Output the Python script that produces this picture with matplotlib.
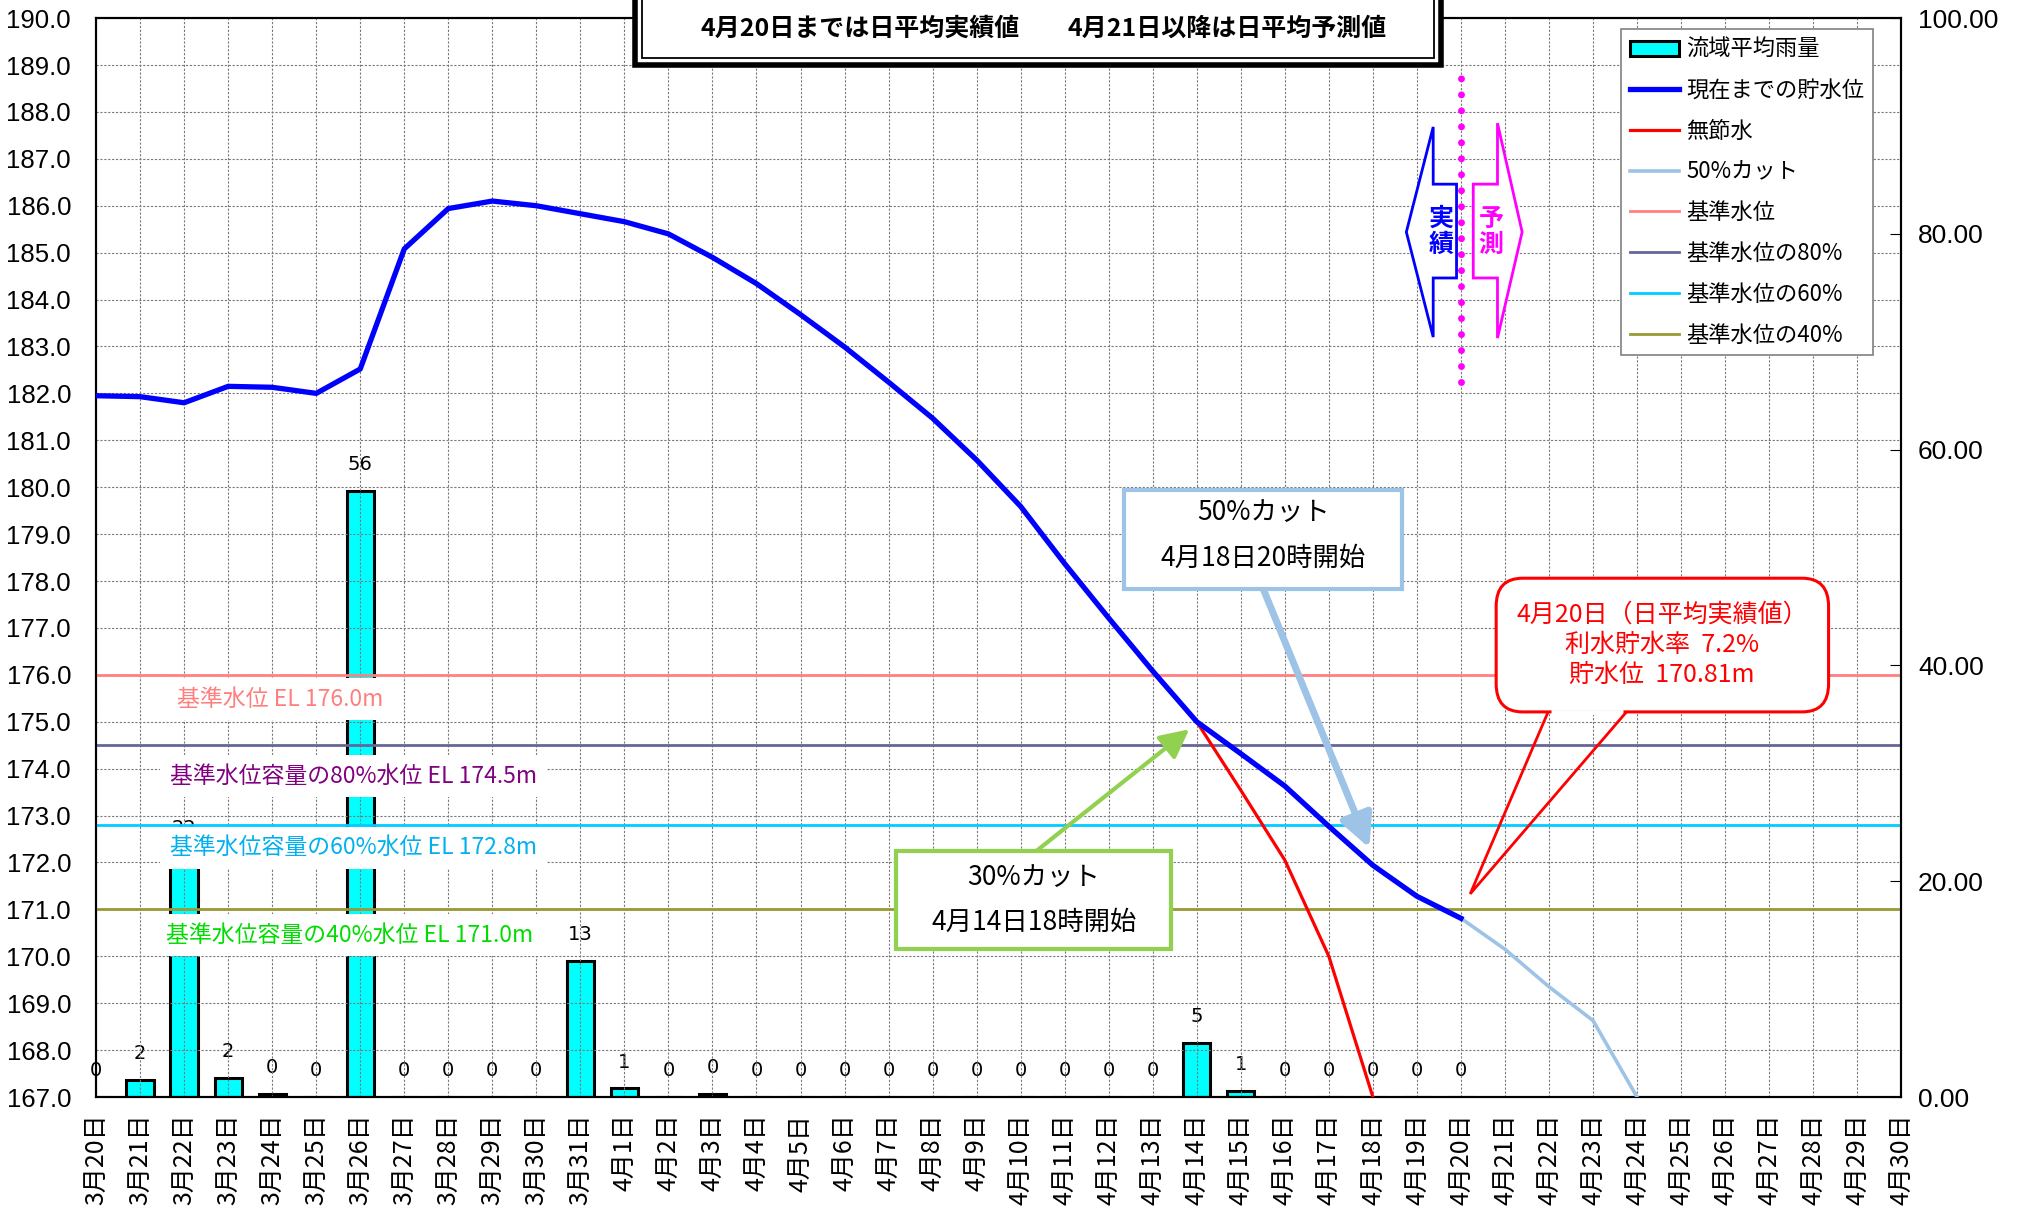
import matplotlib
matplotlib.use('Agg')
import matplotlib.pyplot as plt
import numpy as np
from matplotlib.patches import Rectangle, Polygon, FancyBboxPatch
from matplotlib.ticker import FormatStrFormatter

plt.rcParams['font.family'] = ['Noto Sans CJK JP', 'DejaVu Sans']

# categories: 3/20 .. 4/30
dates = [f"3月{d}日" for d in range(20, 32)] + [f"4月{d}日" for d in range(1, 31)]

# daily basin rainfall (mm), 3/20 .. 4/20
rain = [0, 1.6, 22.4, 1.8, 0.3, 0, 56.2, 0, 0, 0, 0, 12.6, 0.8, 0, 0.3, 0,
        0, 0, 0, 0, 0, 0, 0, 0, 0, 5.0, 0.6, 0, 0, 0, 0, 0]

# reservoir level (EL m), 3/20 .. 4/20
level = [181.95, 181.93, 181.80, 182.15, 182.13, 182.00, 182.52, 185.08,
         185.94, 186.10, 186.00, 185.83, 185.66, 185.40, 184.90, 184.34,
         183.68, 182.99, 182.24, 181.47, 180.58, 179.59, 178.37, 177.21,
         176.08, 175.00, 174.32, 173.63, 172.77, 171.94, 171.28, 170.81]

# no water saving, 4/14 .. 4/18
no_save = [175.00, 173.54, 172.05, 170.00, 167.00]
# 50% cut forecast, 4/20 .. 4/24
cut50 = [170.81, 170.15, 169.35, 168.63, 167.00]

ref_levels = [176.0, 174.5, 172.8, 171.0]
ref_names = ['基準水位', '基準水位の80%', '基準水位の60%', '基準水位の40%']
ref_colors = ['#FF8080', '#666699', '#00CCFF', '#999933']

x = np.arange(len(dates))
n_obs = len(level)

fig = plt.figure(figsize=(20.31, 12.23), dpi=100)
ax = fig.add_axes([0.0473, 0.103, 0.8888, 0.8822])
ax2 = ax.twinx()
ax.set_zorder(ax2.get_zorder() + 1)
ax.patch.set_visible(False)

# rainfall bars (right axis)
bars = ax2.bar(x[:n_obs], rain, width=0.62, color='#00FFFF', edgecolor='black',
               linewidth=2.2, label='流域平均雨量')
for xi, r in zip(x[:n_obs], rain):
    ax2.annotate(f"{r:.0f}", (xi, r), xytext=(0, 19), textcoords='offset points',
                 ha='center', va='center', fontsize=14, annotation_clip=False,
                 family=['Liberation Sans Narrow', 'DejaVu Sans'])
ax2.set_ylim(0, 100)
ax2.set_yticks(np.arange(0, 101, 20))
ax2.yaxis.set_major_formatter(FormatStrFormatter('%.2f'))
ax2.tick_params(axis='y', direction='in', length=8, pad=12, labelsize=19)
for lab in ax2.get_yticklabels():
    lab.set_family('Liberation Sans')

# reference levels
lines = []
for lv, nm, c in zip(ref_levels, ref_names, ref_colors):
    lines.append(ax.axhline(lv, color=c, lw=2, label=nm, zorder=2))

l_red, = ax.plot(x[25:30], no_save, color='#FF0000', lw=2.3, label='無節水', zorder=3)
l_cut, = ax.plot(x[31:36], cut50, color='#9DC3E6', lw=2.6, label='50%カット', zorder=3)
l_blue, = ax.plot(x[:n_obs], level, color='#0000FF', lw=3.8, label='現在までの貯水位', zorder=4)

ax.set_xlim(0, 41)
ax.set_ylim(167, 190)
ax.set_yticks(np.arange(167, 190.5, 1))
ax.yaxis.set_major_formatter(FormatStrFormatter('%.1f'))
ax.tick_params(axis='y', length=0, pad=18, labelsize=18.5)
for lab in ax.get_yticklabels():
    lab.set_family('Liberation Sans')
ax.set_xticks(x)
ax.set_xticklabels(dates, rotation=90, fontsize=18)
ax.tick_params(axis='x', length=0, pad=12)
ax2.tick_params(axis='x', length=0)
ax.set_axisbelow(True)
ax.grid(True, color='#7a7a7a', linestyle=(0, (2, 1.5)), lw=0.8)
for a in (ax, ax2):
    for sp in a.spines.values():
        sp.set_color('black')
        sp.set_linewidth(1.5)

# labels of reference levels
ref_texts = [('基準水位 EL 176.0m', 4.18, 175.48, '#FF7F7F'),
             ('基準水位容量の80%水位 EL 174.5m', 5.84, 173.84, '#800080'),
             ('基準水位容量の60%水位 EL 172.8m', 5.84, 172.31, '#00B0F0'),
             ('基準水位容量の40%水位 EL 171.0m', 5.75, 170.45, '#00DD00')]
for t, tx, ty, c in ref_texts:
    ax.text(tx, ty, t, color=c, fontsize=16.5, ha='center', va='center', zorder=5,
            bbox=dict(facecolor='white', edgecolor='none', pad=7))

# forecast divider
ax.plot([x[31], x[31]], [182.24, 188.78], color='#FF00FF', lw=5,
        linestyle=(0, (0.001, 2.3)), dash_capstyle='round', zorder=4)
ax.add_patch(Polygon([(29.76, 185.44), (30.37, 187.68), (30.37, 186.46), (30.90, 186.46),
                      (30.90, 184.46), (30.37, 184.46), (30.37, 183.20)],
                     closed=True, fc='white', ec='#0000FF', lw=2, zorder=3))
ax.add_patch(Polygon([(32.39, 185.44), (31.83, 187.76), (31.83, 186.46), (31.28, 186.46),
                      (31.28, 184.46), (31.83, 184.46), (31.83, 183.18)],
                     closed=True, fc='white', ec='#FF00FF', lw=2, zorder=3))
ax.text(30.55, 185.44, '実\n績', color='#0000FF', fontsize=18, fontweight='bold',
        ha='center', va='center', linespacing=1.1, zorder=5)
ax.text(31.68, 185.44, '予\n測', color='#FF00FF', fontsize=18, fontweight='bold',
        ha='center', va='center', linespacing=1.1, zorder=5)

# 50% cut note
ax.annotate('', xy=(28.92, 172.31), xytext=(26.51, 177.83),
            arrowprops=dict(arrowstyle='-|>,head_length=0.9,head_width=0.45', color='#9DC3E6',
                            lw=5, mutation_scale=22, shrinkA=0, shrinkB=0), zorder=6)
ax.add_patch(Rectangle((23.35, 177.83), 6.32, 2.11, fc='white', ec='#9DC3E6', lw=3, zorder=7))
ax.text(26.51, 179.45, '50%カット', fontsize=19, ha='center', va='center', zorder=8)
ax.text(26.51, 178.49, '4月18日20時開始', fontsize=19, ha='center', va='center', zorder=8)

# 30% cut note
ax.annotate('', xy=(24.83, 174.84), xytext=(21.35, 172.24),
            arrowprops=dict(arrowstyle='-|>,head_length=0.8,head_width=0.4', color='#92D050',
                            lw=3, mutation_scale=22, shrinkA=0, shrinkB=0), zorder=6)
ax.add_patch(Rectangle((18.17, 170.15), 6.25, 2.09, fc='white', ec='#92D050', lw=3, zorder=7))
ax.text(21.3, 171.69, '30%カット', fontsize=19, ha='center', va='center', zorder=8)
ax.text(21.3, 170.73, '4月14日18時開始', fontsize=19, ha='center', va='center', zorder=8)

# callout for 4/20
ax.add_patch(FancyBboxPatch((31.8, 175.21), 7.55, 2.85,
                            boxstyle='round,pad=0,rounding_size=0.6',
                            fc='white', ec='#FF0000', lw=2.2, zorder=7))
ax.plot([33.05, 34.69], [175.21, 175.21], color='white', lw=3.5, zorder=8,
        solid_capstyle='butt')
ax.add_patch(Polygon([(32.98, 175.21), (31.21, 171.33), (34.76, 175.21)], closed=False,
                     fill=False, ec='#FF0000', lw=2, zorder=8))
ax.text(35.57, 176.64, '4月20日（日平均実績値）\n利水貯水率  7.2%\n貯水位  170.81m',
        color='#FF0000', fontsize=18, ha='center', va='center', linespacing=1.2, zorder=9)

# legend
handles = [bars, l_blue, l_red, l_cut] + lines
labels = [h.get_label() for h in handles]
leg = ax.legend(handles, labels, loc='upper right', bbox_to_anchor=(0.9907, 1.0),
                fontsize=16, fancybox=False, edgecolor='#808080', framealpha=1,
                handlelength=2.2, handletextpad=0.35, labelspacing=0.8, borderpad=0.4)
leg.get_frame().set_linewidth(1.2)
leg.set_zorder(10)

# title box (partly outside the figure)
fig.add_artist(Rectangle((0.3127, 0.9469), 0.397, 0.1, transform=fig.transFigure,
                         fc='white', ec='black', lw=4, clip_on=False, zorder=20))
fig.add_artist(Rectangle((0.3162, 0.9526), 0.390, 0.1, transform=fig.transFigure,
                         fc='white', ec='black', lw=1.3, clip_on=False, zorder=21))
fig.text(0.4234, 0.9767, '4月20日までは日平均実績値', fontsize=18, fontweight='bold',
         ha='center', va='center', zorder=22)
fig.text(0.604, 0.9767, '4月21日以降は日平均予測値', fontsize=18, fontweight='bold',
         ha='center', va='center', zorder=22)

fig.savefig('out.png', dpi=100)
